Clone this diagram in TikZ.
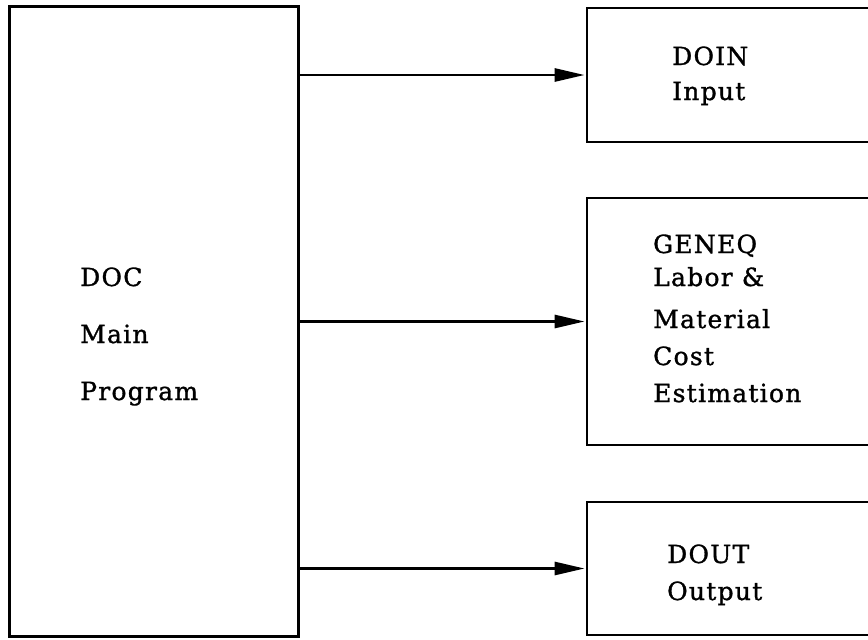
\documentclass[tikz,border=0pt]{standalone}
\usepackage{fontspec}
\setmainfont[LetterSpace=5,FakeBold=1.2]{DejaVu Serif}
\usetikzlibrary{arrows.meta}
\tikzset{
  mainbox/.style={draw, line width=3pt, rectangle, inner sep=0pt},
  subbox/.style={draw, line width=2.8pt, rectangle, inner sep=0pt},
  lbl/.style={anchor=base west, inner sep=0pt, font=\fontsize{25}{30}\selectfont},
  arr/.style={line width=2.8pt, -{Triangle[length=30pt,width=13pt]}, shorten >=1pt}
}
\begin{document}
\begin{tikzpicture}[x=1pt,y=-1pt]
\useasboundingbox (0,0) rectangle (868,640);
\clip (0,0) rectangle (868,640);
\fill[white] (0,0) rectangle (868,640);
% boxes
\node[mainbox, minimum width=289pt, minimum height=630pt] (main) at (153.5,321) {};
\node[subbox, minimum width=283pt, minimum height=134pt] (doin) at (728.5,75) {};
\node[subbox, minimum width=283pt, minimum height=247pt] (geneq) at (728.5,321.5) {};
\node[subbox, minimum width=283pt, minimum height=133pt] (dout) at (728.5,568.5) {};
% main text
\node[lbl] (t1) at (80,286) {DOC};
\node[lbl] (t2) at (80,343) {Main};
\node[lbl] (t3) at (80,400) {Program};
% DOIN
\node[lbl] (t4) at (672,65) {DOIN};
\node[lbl] (t5) at (672,100) {Input};
% GENEQ
\node[lbl] (t6) at (653,253) {GENEQ};
\node[lbl] (t7) at (653,286) {Labor \&};
\node[lbl] (t8) at (653,328) {Material};
\node[lbl] (t9) at (653,365) {Cost};
\node[lbl] (t10) at (653,402) {Estimation};
% DOUT
\node[lbl] (t11) at (667,563) {DOUT};
\node[lbl] (t12) at (667,600) {Output};
% arrows
\draw[arr] (main.east |- doin.west) -- (doin.west);
\draw[arr] (main.east |- geneq.west) -- (geneq.west);
\draw[arr] (main.east |- dout.west) -- (dout.west);
\end{tikzpicture}
\end{document}
